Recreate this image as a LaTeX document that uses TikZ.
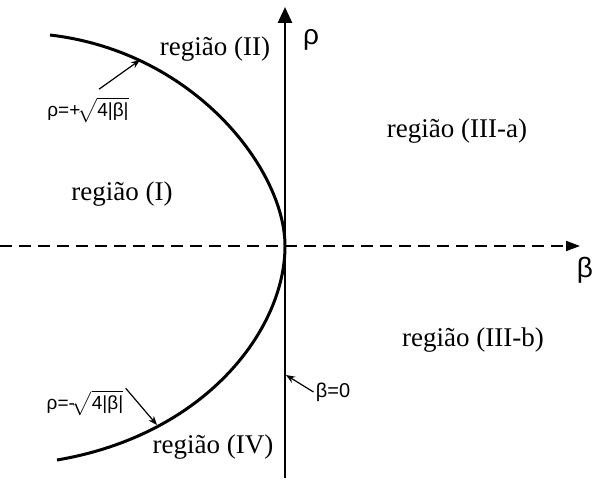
\documentclass[tikz,border=0pt]{standalone}
\usepackage{fontspec}
\setmainfont{Liberation Serif}
\newfontfamily\grk{Liberation Sans}
\usepackage{tikz}
\usetikzlibrary{
  arrows.meta,
  positioning,
  calc
}
\tikzset{
  axisline/.style={line width=1.4pt, -{Triangle[length=8pt, width=7pt]}},
  betaline/.style={line width=0.9pt, dash pattern=on 6pt off 3.5pt,
    -{Triangle[length=7pt, width=5pt]}},
  curveline/.style={line width=1.5pt},
  pointer/.style={line width=0.6pt, -{Stealth[length=4.5pt, width=3.5pt]}},
  region/.style={font=\fontsize{13.5}{16}\selectfont, inner sep=1pt},
  axlabel/.style={font=\grk\fontsize{14}{16}\selectfont, inner sep=1pt},
  tag/.style={font=\grk\fontsize{9.5}{11}\selectfont, inner sep=1pt}
}
\begin{document}
\begin{tikzpicture}[x=0.5pt, y=-0.5pt]
  \useasboundingbox (0,0) rectangle (592,480);
  % axes
  \coordinate (o) at (285,246);
  \coordinate (rhobot) at (285,478);
  \coordinate (rhotop) at (285,7);
  \coordinate (betaleft) at (0,246);
  \coordinate (betaright) at (580,246);
  \draw[betaline] (betaleft) -- (betaright);
  \draw[axisline] (rhobot) -- (rhotop);
  \node[axlabel] (rho) at (311,40) {ρ};
  \node[axlabel] (beta) at (585,270) {β};
  % boundary curve
  \coordinate (cup) at (50,35);
  \coordinate (clow) at (57,460);
  \draw[curveline] (cup) .. controls (195,52) and (285,170) .. (o)
    .. controls (285,330) and (205,435) .. (clow);
  \coordinate (uptip) at (140,60);
  \coordinate (lowtip) at (157,425);
  \coordinate (axtip) at (286,375);
  % regions
  \node[region] (r1) at (122,194) {região (I)};
  \node[region] (r2) at (215,49) {região (II)};
  \node[region] (r3a) at (457,131) {região (III-a)};
  \node[region] (r3b) at (473,340) {região (III-b)};
  \node[region] (r4) at (213,447) {região (IV)};
  % formulas
  \node[tag] (fup) at (88,110) {ρ=+$\!\sqrt{\hbox{\grk 4|β|}}$};
  \node[tag] (flow) at (85,403) {ρ=-$\!\sqrt{\hbox{\grk 4|β|}}$};
  \node[tag, font=\grk\fontsize{10}{12}\selectfont] (b0) at (333,392) {β=0};
  \draw[pointer] (fup.north east) ++(-32,-6) coordinate (fupstart) -- (uptip);
  \draw[pointer] (flow.north east) -- (lowtip);
  \draw[pointer] (b0.west) -- (axtip);
\end{tikzpicture}
\end{document}
